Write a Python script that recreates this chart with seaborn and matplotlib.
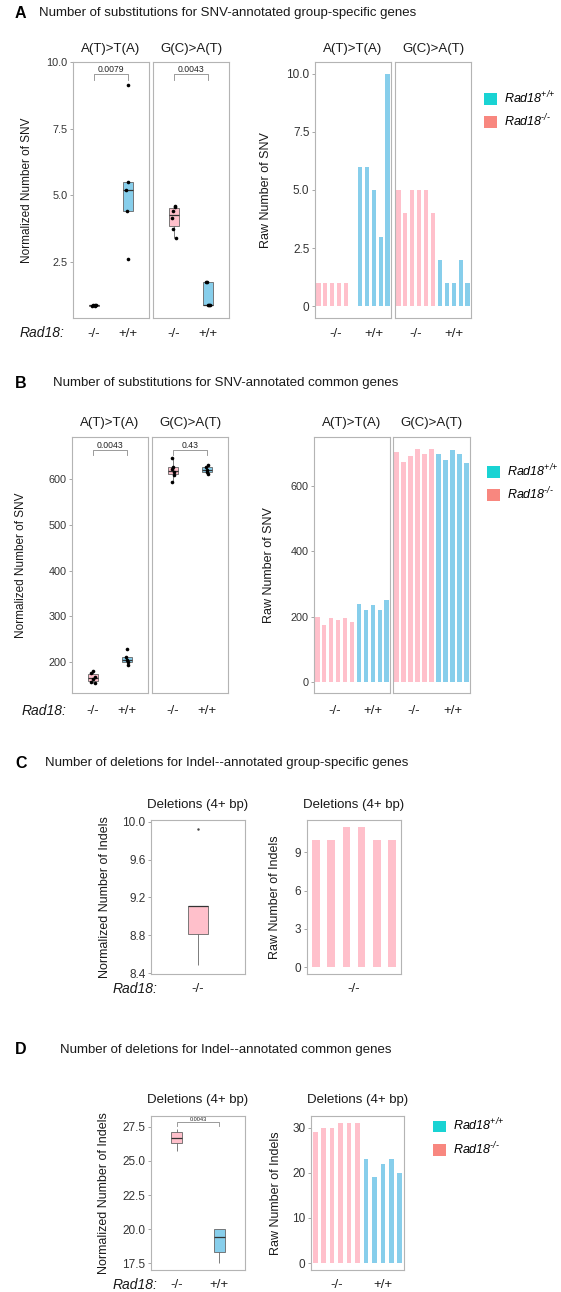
import numpy as np
import pandas as pd
import matplotlib
matplotlib.use('Agg')
import matplotlib.pyplot as plt
import seaborn as sns
from matplotlib.patches import Patch
from matplotlib.transforms import blended_transform_factory

plt.rcParams['font.family'] = ['Liberation Sans', 'DejaVu Sans']
plt.rcParams['mathtext.fontset'] = 'custom'
plt.rcParams['mathtext.it'] = 'Liberation Sans:italic'
plt.rcParams['mathtext.rm'] = 'Liberation Sans:italic'
np.random.seed(7)

# ---------------- data ----------------
GENOS = ['-/-', '+/+']
SUBS = ['A(T)>T(A)', 'G(C)>A(T)']
DEL_LABEL = 'Deletions (4+ bp)'

# Panel A (group-specific SNV)
a_norm_at_ko = [0.84, 0.86, 0.87, 0.88, 0.90]
a_norm_at_wt = [9.15, 5.5, 5.2, 4.4, 2.6]
a_norm_ga_ko = [4.6, 4.55, 4.4, 4.15, 3.75, 3.4]
a_norm_ga_wt = [1.75, 0.88, 0.88, 1.75, 0.88]
a_raw_at_ko = [1, 1, 1, 1, 1, 0]
a_raw_at_wt = [6, 6, 5, 3, 10]
a_raw_ga_ko = [5, 4, 5, 5, 5, 4]
a_raw_ga_wt = [2, 1, 1, 2, 1]
a_pvals = ['0.0079', '0.0043']

# Panel B (common SNV)
b_norm_at_ko = [155, 158, 163, 168, 176, 182]
b_norm_at_wt = [193, 200, 206, 211, 228]
b_norm_ga_ko = [645, 626, 621, 614, 609, 594]
b_norm_ga_wt = [630, 626, 620, 614, 611]
b_raw_at_ko = [199, 176, 195, 189, 195, 185]
b_raw_at_wt = [240, 220, 237, 222, 250]
b_raw_ga_ko = [703, 674, 691, 714, 699, 714]
b_raw_ga_wt = [699, 679, 709, 699, 671]
b_pvals = ['0.0043', '0.43']

# Panel C (group-specific deletions)
c_norm_ko = [8.49, 8.72, 9.11, 9.11, 9.11, 9.93]
c_raw_ko = [10, 10, 11, 11, 10, 10]

# Panel D (common deletions)
d_norm_ko = [25.7, 26.2, 26.6, 26.8, 27.2, 27.35]
d_norm_wt = [17.5, 18.3, 19.4, 20.0, 20.0]
d_raw_ko = [29, 30, 30, 31, 31, 31]
d_raw_wt = [23, 19, 22, 23, 20]
d_pval = '0.0043'

# tick labels
a_norm_ticks = [2.5, 5.0, 7.5, 10.0]
a_norm_tlab = ['2.5', '5.0', '7.5', '10.0']
a_raw_ticks = [0, 2.5, 5.0, 7.5, 10.0]
a_raw_tlab = ['0', '2.5', '5.0', '7.5', '10.0']
b_norm_ticks = [200, 300, 400, 500, 600]
b_norm_tlab = ['200', '300', '400', '500', '600']
b_raw_ticks = [0, 200, 400, 600]
b_raw_tlab = ['0', '200', '400', '600']
c_norm_ticks = [8.4, 8.8, 9.2, 9.6, 10.0]
c_norm_tlab = ['8.4', '8.8', '9.2', '9.6', '10.0']
c_raw_ticks = [0, 3, 6, 9]
c_raw_tlab = ['0', '3', '6', '9']
d_norm_ticks = [17.5, 20.0, 22.5, 25.0, 27.5]
d_norm_tlab = ['17.5', '20.0', '22.5', '25.0', '27.5']
d_raw_ticks = [0, 10, 20, 30]
d_raw_tlab = ['0', '10', '20', '30']

PALETTE = {'-/-': '#FFC0CB', '+/+': '#87CEEB'}
LEG_COLORS = ['#19D3D3', '#F8877F']
LEG_LABELS = [r'$Rad18^{\text{+/+}}$', r'$Rad18^{\text{-/-}}$']

# ---------------- layout helpers ----------------
W, H = 561, 1292
fig = plt.figure(figsize=(W / 100, H / 100), dpi=100)


def add_ax(x0, y0, x1, y1):
    return fig.add_axes([x0 / W, 1 - y1 / H, (x1 - x0) / W, (y1 - y0) / H])


def fx(px):
    return px / W


def fy(py):
    return 1 - py / H


def style(ax, ylim, ticks=None, tlab=None, tfs=7.8):
    ax.set_ylim(*ylim)
    ax.set_xlabel('')
    ax.set_ylabel('')
    ax.set_xticks([])
    if ticks is None:
        ax.set_yticks([])
    else:
        ax.set_yticks(ticks)
        ax.set_yticklabels(tlab)
    for s in ax.spines.values():
        s.set_color('#B4B4B4')
        s.set_linewidth(0.8)
    ax.tick_params(axis='y', length=2.5, width=0.6, color='#999999',
                   labelsize=tfs, labelcolor='#333333', pad=1.5)


def under(ax, xs, labels, ypx, fs=9.5):
    tr = blended_transform_factory(ax.transData, fig.transFigure)
    for x, l in zip(xs, labels):
        ax.text(x, fy(ypx), l, transform=tr, ha='center', va='center',
                fontsize=fs, color='#222222')


def strip(ax, text, ypx, fs=9.5):
    tr = blended_transform_factory(ax.transAxes, fig.transFigure)
    ax.text(0.5, fy(ypx), text, transform=tr, ha='center', va='center',
            fontsize=fs, color='#1a1a1a')


def bracket(ax, x1, x2, ybar, ytick, label, fs):
    tr = blended_transform_factory(ax.transData, ax.transAxes)
    ax.plot([x1, x1, x2, x2], [ytick, ybar, ybar, ytick], transform=tr,
            color='#8a8a8a', lw=0.6, clip_on=False)
    ax.text((x1 + x2) / 2, ybar + 0.002, label, transform=tr, ha='center',
            va='bottom', fontsize=fs, color='#222222')


def box_facet(ax, ko, wt, width, points=True, fliers=False, genos=GENOS):
    vals = list(ko) + list(wt)
    gen = [genos[0]] * len(ko) + ([genos[1]] * len(wt) if len(genos) > 1 else [])
    df = pd.DataFrame({'g': gen, 'v': vals})
    sns.boxplot(data=df, x='g', y='v', hue='g', order=genos, hue_order=genos,
                palette=PALETTE, dodge=False, width=width, saturation=1,
                showfliers=fliers, linecolor='#666666', linewidth=0.6,
                medianprops={'color': '#333333', 'linewidth': 0.9},
                capprops={'visible': False},
                flierprops={'marker': '.', 'markersize': 1.5,
                            'markerfacecolor': '#444444',
                            'markeredgecolor': '#444444'},
                legend=False, ax=ax)
    if points:
        sns.stripplot(data=df, x='g', y='v', order=genos, color='black',
                      size=2.6, jitter=0.07, ax=ax, zorder=5)
    ax.set_xlim(-0.6, len(genos) - 0.4)


def bar_facet(ax, ko, wt, width=0.6, pad=0.5):
    vals = list(ko) + list(wt)
    gen = ['-/-'] * len(ko) + ['+/+'] * len(wt)
    idx = list(range(len(vals)))
    df = pd.DataFrame({'i': idx, 'v': vals, 'g': gen})
    sns.barplot(data=df, x='i', y='v', hue='g', hue_order=[g for g in GENOS if g in gen],
                palette=PALETTE, dodge=False, width=width, saturation=1,
                linewidth=0, errorbar=None, legend=False, ax=ax)
    ax.set_xlim(-pad, len(vals) - 1 + pad)
    centers = [np.mean([i for i, g in zip(idx, gen) if g == k]) for k in GENOS if k in gen]
    labs = [k for k in GENOS if k in gen]
    return centers, labs


def legend(xpx, ypx):
    handles = [Patch(facecolor=c, edgecolor='none') for c in LEG_COLORS]
    fig.legend(handles=handles, labels=LEG_LABELS, loc='center left',
               bbox_to_anchor=(fx(xpx), fy(ypx)), frameon=False, fontsize=9,
               handlelength=1.05, handleheight=1.05, handletextpad=0.55,
               labelspacing=0.55, borderpad=0, borderaxespad=0)


def header(letter, text, ypx, xtext):
    fig.text(fx(15), fy(ypx), letter, fontsize=11.5, fontweight='bold',
             ha='left', va='center')
    fig.text(fx(xtext), fy(ypx), text, fontsize=9.5, ha='left', va='center',
             color='#1a1a1a')


def ylab(text, xpx, ypx, fs=8.5):
    fig.text(fx(xpx), fy(ypx), text, rotation=90, ha='center', va='center',
             fontsize=fs, color='#1a1a1a')


def rad(xpx, ypx, ha='left'):
    fig.text(fx(xpx), fy(ypx), 'Rad18:', fontstyle='italic', fontsize=10,
             ha=ha, va='center', color='#1a1a1a')


# ---------------- Panel A ----------------
header('A', 'Number of substitutions for SNV-annotated group-specific genes', 13, 39)
a_ylim = (0.4, 10.0)
axA1 = add_ax(73, 62, 149, 318)
box_facet(axA1, a_norm_at_ko, a_norm_at_wt, 0.3)
style(axA1, a_ylim, a_norm_ticks, a_norm_tlab)
axA2 = add_ax(153, 62, 229, 318)
box_facet(axA2, a_norm_ga_ko, a_norm_ga_wt, 0.3)
style(axA2, a_ylim)
for ax, s, p in zip([axA1, axA2], SUBS, a_pvals):
    strip(ax, s, 49)
    under(ax, [0, 1], GENOS, 334)
    bracket(ax, 0, 1, 0.953, 0.93, p, 6.2)
rad(20, 333)
ylab('Normalized Number of SNV', 27, 190)

a_rylim = (-0.5, 10.5)
axA3 = add_ax(315, 62, 391, 318)
c, l = bar_facet(axA3, a_raw_at_ko, a_raw_at_wt)
style(axA3, a_rylim, a_raw_ticks, a_raw_tlab, tfs=8.5)
under(axA3, c, l, 334)
axA4 = add_ax(395, 62, 471, 318)
c, l = bar_facet(axA4, a_raw_ga_ko, a_raw_ga_wt)
style(axA4, a_rylim)
under(axA4, c, l, 334)
strip(axA3, SUBS[0], 49)
strip(axA4, SUBS[1], 49)
ylab('Raw Number of SNV', 266, 190, fs=9)
legend(484, 109.5)

# ---------------- Panel B ----------------
header('B', 'Number of substitutions for SNV-annotated common genes', 383, 53)
b_ylim = (133, 691)
axB1 = add_ax(72, 437, 148, 693)
box_facet(axB1, b_norm_at_ko, b_norm_at_wt, 0.28)
style(axB1, b_ylim, b_norm_ticks, b_norm_tlab)
axB2 = add_ax(152, 437, 228, 693)
box_facet(axB2, b_norm_ga_ko, b_norm_ga_wt, 0.28)
style(axB2, b_ylim)
for ax, s, p in zip([axB1, axB2], SUBS, b_pvals):
    strip(ax, s, 423)
    under(ax, [0, 1], GENOS, 711)
    bracket(ax, 0, 1, 0.949, 0.93, p, 6.2)
rad(22, 711)
ylab('Normalized Number of SNV', 21, 565)

b_rylim = (-33, 750)
axB3 = add_ax(314, 437, 390, 693)
c, l = bar_facet(axB3, b_raw_at_ko, b_raw_at_wt)
style(axB3, b_rylim, b_raw_ticks, b_raw_tlab)
under(axB3, c, l, 711)
axB4 = add_ax(393, 437, 470, 693)
c, l = bar_facet(axB4, b_raw_ga_ko, b_raw_ga_wt)
style(axB4, b_rylim)
under(axB4, c, l, 711)
strip(axB3, SUBS[0], 423)
strip(axB4, SUBS[1], 423)
ylab('Raw Number of SNV', 269, 565, fs=9)
legend(487, 482.5)

# ---------------- Panel C ----------------
header('C', 'Number of deletions for Indel--annotated group-specific genes', 763, 45)
axC1 = add_ax(151, 820, 245, 974)
box_facet(axC1, c_norm_ko, [], 0.25, points=False, fliers=True, genos=GENOS[:1])
style(axC1, (8.39, 10.02), c_norm_ticks, c_norm_tlab, tfs=8.5)
strip(axC1, DEL_LABEL, 805)
under(axC1, [0], GENOS[:1], 989)
rad(157, 989, ha='right')
ylab('Normalized Number of Indels', 105, 897, fs=9)

axC2 = add_ax(307, 820, 401, 974)
c, l = bar_facet(axC2, c_raw_ko, [], width=0.5, pad=0.6)
style(axC2, (-0.55, 11.55), c_raw_ticks, c_raw_tlab, tfs=8.5)
strip(axC2, DEL_LABEL, 805)
under(axC2, c, l, 989)
ylab('Raw Number of Indels', 275, 897, fs=9)

# ---------------- Panel D ----------------
header('D', 'Number of deletions for Indel--annotated common genes', 1050, 60)
axD1 = add_ax(151, 1116, 245, 1270)
box_facet(axD1, d_norm_ko, d_norm_wt, 0.26, points=False)
style(axD1, (17.0, 28.3), d_norm_ticks, d_norm_tlab, tfs=8.5)
strip(axD1, DEL_LABEL, 1100)
under(axD1, [0, 1], GENOS, 1285)
bracket(axD1, 0, 1, 0.961, 0.935, d_pval, 4)
rad(157, 1285, ha='right')
ylab('Normalized Number of Indels', 104, 1193, fs=9)

axD2 = add_ax(311, 1116, 404, 1270)
c, l = bar_facet(axD2, d_raw_ko, d_raw_wt, width=0.55, pad=0.5)
style(axD2, (-1.55, 32.6), d_raw_ticks, d_raw_tlab, tfs=8.5)
strip(axD2, DEL_LABEL, 1100)
under(axD2, c, l, 1285)
ylab('Raw Number of Indels', 276, 1193, fs=9)
legend(433, 1137)

fig.savefig('out.png', dpi=100, facecolor='white')
